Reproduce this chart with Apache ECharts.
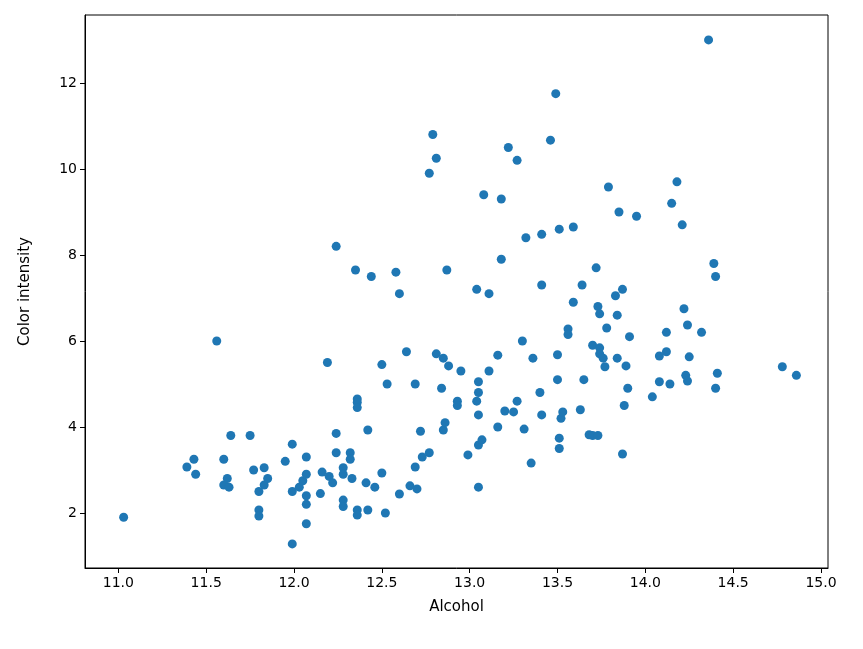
<!DOCTYPE html>
<html><head><meta charset="utf-8">
<script src="https://cdn.jsdelivr.net/npm/echarts@6/dist/echarts.min.js"></script>
<style>html,body{margin:0;padding:0;background:#fff}#c{width:863px;height:649px}</style>
</head><body><div id="c"></div>
<script>
const alcohol = [11.03,11.39,11.43,11.44,11.56,11.6,11.6,11.62,11.63,11.64,11.75,11.77,11.8,11.8,11.8,11.83,11.83,11.85,11.95,11.99,11.99,11.99,12.03,12.05,12.07,12.07,12.07,12.07,12.07,12.15,12.16,12.19,12.2,12.22,12.24,12.24,12.24,12.28,12.28,12.28,12.28,12.32,12.32,12.33,12.35,12.36,12.36,12.36,12.36,12.36,12.41,12.42,12.42,12.44,12.46,12.5,12.5,12.52,12.53,12.58,12.6,12.6,12.64,12.66,12.69,12.69,12.7,12.72,12.73,12.77,12.77,12.79,12.81,12.81,12.84,12.85,12.85,12.86,12.87,12.88,12.93,12.93,12.95,12.99,13.04,13.04,13.05,13.05,13.05,13.05,13.05,13.07,13.08,13.11,13.11,13.16,13.16,13.18,13.18,13.2,13.22,13.25,13.27,13.27,13.3,13.31,13.32,13.35,13.36,13.41,13.41,13.4,13.41,13.46,13.49,13.5,13.5,13.51,13.51,13.51,13.52,13.53,13.56,13.56,13.59,13.59,13.63,13.64,13.65,13.7,13.68,13.7,13.72,13.73,13.73,13.74,13.74,13.74,13.76,13.77,13.78,13.79,13.83,13.84,13.84,13.85,13.87,13.87,13.88,13.89,13.9,13.91,13.95,14.04,14.08,14.08,14.12,14.12,14.14,14.15,14.18,14.21,14.22,14.23,14.24,14.24,14.25,14.32,14.36,14.39,14.4,14.4,14.41,14.78,14.86];
const colorIntensity = [1.9,3.07,3.25,2.9,6.0,3.25,2.65,2.8,2.6,3.8,3.8,3.0,2.5,2.07,1.93,3.05,2.65,2.8,3.2,3.6,2.5,1.28,2.6,2.75,2.9,3.3,2.4,2.2,1.75,2.45,2.95,5.5,2.85,2.7,8.2,3.85,3.4,3.05,2.9,2.3,2.15,3.4,3.25,2.8,7.65,4.65,4.57,4.45,2.07,1.95,2.7,3.93,2.07,7.5,2.6,5.45,2.93,2.0,5.0,7.6,7.1,2.44,5.75,2.63,3.07,5.0,2.56,3.9,3.3,3.4,9.9,10.8,10.25,5.7,4.9,5.6,3.93,4.1,7.65,5.42,4.6,4.5,5.3,3.35,7.2,4.6,5.05,4.8,4.28,3.58,2.6,3.7,9.4,7.1,5.3,5.67,4.0,9.3,7.9,4.37,10.5,4.35,10.2,4.6,6.0,3.95,8.4,3.16,5.6,8.48,7.3,4.8,4.28,10.67,11.75,5.1,5.68,8.6,3.74,3.5,4.2,4.35,6.28,6.15,8.65,6.9,4.4,7.3,5.1,5.9,3.82,3.8,7.7,3.8,6.8,6.63,5.84,5.7,5.6,5.4,6.3,9.58,7.05,6.6,5.6,9.0,7.2,3.37,4.5,5.42,4.9,6.1,8.9,4.7,5.65,5.05,5.75,6.2,5.0,9.2,9.7,8.7,6.75,5.2,5.07,6.37,5.63,6.2,13.0,7.8,7.5,4.9,5.25,5.4,5.2];
const xTicks = [11.0,11.5,12.0,12.5,13.0,13.5,14.0,14.5,15.0];
const yTicks = [2,4,6,8,10,12];
const pts = alcohol.map((a,i)=>[a,colorIntensity[i]]);
const font = {fontFamily:'DejaVu Sans',fontSize:14,color:'#000'};
const chart = echarts.init(document.getElementById('c'));
chart.setOption({
  animation:false,
  grid:{left:85,right:35,top:15,bottom:81,show:true,borderColor:'#000',borderWidth:1},
  xAxis:{type:'value',min:10.81,max:15.04,name:'Alcohol',nameLocation:'middle',nameGap:32,
    nameTextStyle:{...font,fontSize:15},
    axisLine:{show:true,onZero:false,lineStyle:{color:'#000'}},
    axisTick:{show:true,customValues:xTicks,length:5,lineStyle:{color:'#000'}},
    axisLabel:{customValues:xTicks,...font,margin:8,formatter:v=>v.toFixed(1)},
    splitLine:{show:false}},
  yAxis:{type:'value',min:0.72,max:13.58,name:'Color intensity',nameLocation:'middle',nameGap:52,
    nameTextStyle:{...font,fontSize:15},
    axisLine:{show:true,onZero:false,lineStyle:{color:'#000'}},
    axisTick:{show:true,customValues:yTicks,length:5,lineStyle:{color:'#000'}},
    axisLabel:{customValues:yTicks,...font,margin:8},
    splitLine:{show:false}},
  series:[{type:'scatter',data:pts,symbolSize:9,itemStyle:{color:'#1f77b4',opacity:1}}]
});
</script></body></html>
